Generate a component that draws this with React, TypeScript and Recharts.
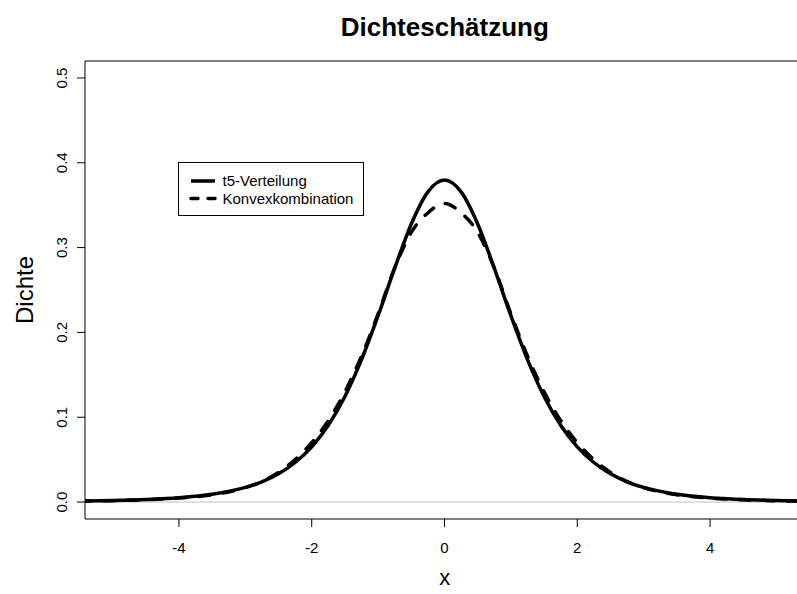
import {
  LineChart,
  Line,
  XAxis,
  YAxis,
  ReferenceLine,
  ReferenceArea,
} from 'recharts';

const xValues = [
  -5.5, -5, -4.5, -4, -3.5, -3, -2.75, -2.5, -2.25, -2, -1.75, -1.5, -1.25, -1, -0.75, -0.5, -0.25,
  0, 0.25, 0.5, 0.75, 1, 1.25, 1.5, 1.75, 2, 2.25, 2.5, 2.75, 3, 3.5, 4, 4.5, 5, 5.5,
];

const t5Values = [
  0.0011, 0.0018, 0.003, 0.0051, 0.0092, 0.0173, 0.0239, 0.0333, 0.0466, 0.0651, 0.0905, 0.1245, 0.1679, 0.2197, 0.2757, 0.3279, 0.3657,
  0.3796, 0.3657, 0.3279, 0.2757, 0.2197, 0.1679, 0.1245, 0.0905, 0.0651, 0.0466, 0.0333, 0.0239, 0.0173, 0.0092, 0.0051, 0.003, 0.0018, 0.0011,
];

const konvexValues = [
  0.001, 0.0016, 0.0027, 0.0047, 0.0085, 0.017, 0.024, 0.035, 0.05, 0.07, 0.096, 0.13, 0.172, 0.222, 0.276, 0.318, 0.341,
  0.352, 0.341, 0.318, 0.276, 0.222, 0.172, 0.13, 0.096, 0.07, 0.05, 0.035, 0.024, 0.017, 0.0085, 0.0047, 0.0027, 0.0016, 0.001,
];

const xTicks = [-4, -2, 0, 2, 4];
const yTicks = [0, 0.1, 0.2, 0.3, 0.4, 0.5];

const seriesNames = ['t5-Verteilung', 'Konvexkombination'];

const data = xValues.map((x, i) => ({ x, t5: t5Values[i], konvex: konvexValues[i] }));

const FONT = '"Liberation Sans", Arial, sans-serif';
const X_MIN = -5.415;
const X_MAX = 5.415;
const Y_MIN = -0.02;
const Y_MAX = 0.52;

const YTick = (props: any) => {
  const { y, payload } = props;
  return (
    <text
      x={67}
      y={y}
      transform={`rotate(-90, 67, ${y})`}
      textAnchor="middle"
      fontFamily={FONT}
      fontSize={15}
      fill="#000"
    >
      {payload.value.toFixed(1)}
    </text>
  );
};

const XTick = (props: any) => {
  const { x, payload } = props;
  return (
    <text x={x} y={553} textAnchor="middle" fontFamily={FONT} fontSize={15} fill="#000">
      {payload.value}
    </text>
  );
};

export default function App() {
  return (
    <div style={{ position: 'absolute', left: 0, top: 0, width: 797, height: 594, overflow: 'hidden', background: '#fff' }}>
      <LineChart width={806} height={594} data={data} margin={{ top: 61, right: 2, bottom: 0, left: 0 }}>
        <XAxis
          dataKey="x"
          type="number"
          domain={[X_MIN, X_MAX]}
          ticks={xTicks}
          allowDataOverflow
          axisLine={false}
          tickLine={{ stroke: '#000' }}
          tickSize={8}
          height={75}
          tick={<XTick />}
        />
        <YAxis
          type="number"
          domain={[Y_MIN, Y_MAX]}
          ticks={yTicks}
          allowDataOverflow
          axisLine={false}
          tickLine={{ stroke: '#000' }}
          tickSize={8}
          width={85}
          tick={<YTick />}
        />
        <ReferenceLine y={0} stroke="#bebebe" strokeWidth={1} />
        <ReferenceArea x1={X_MIN} x2={X_MAX} y1={Y_MIN} y2={Y_MAX} fill="none" stroke="#000" strokeWidth={1} fillOpacity={0} />
        <Line
          type="monotone"
          dataKey="t5"
          name={seriesNames[0]}
          stroke="#000"
          strokeWidth={3.5}
          dot={false}
          isAnimationActive={false}
        />
        <Line
          type="monotone"
          dataKey="konvex"
          name={seriesNames[1]}
          stroke="#000"
          strokeWidth={3.5}
          strokeDasharray="11 13"
          strokeLinecap="round"
          dot={false}
          isAnimationActive={false}
        />
      </LineChart>
      <svg width={797} height={594} style={{ position: 'absolute', left: 0, top: 0, pointerEvents: 'none' }}>
        <text x={444.8} y={36} textAnchor="middle" fontFamily={FONT} fontSize={26} fontWeight="bold" fill="#000">
          Dichteschätzung
        </text>
        <text x={33} y={290} transform="rotate(-90, 33, 290)" textAnchor="middle" fontFamily={FONT} fontSize={24} fill="#000">
          Dichte
        </text>
        <text x={444.8} y={585} textAnchor="middle" fontFamily={FONT} fontSize={22} fill="#000">
          x
        </text>
        <g transform="translate(178, 162)">
          <rect x={0.5} y={0.5} width={185} height={53} fill="#fff" stroke="#000" />
          <line x1={13} x2={37} y1={19} y2={19} stroke="#000" strokeWidth={3.5} />
          <line x1={13} x2={37} y1={36.5} y2={36.5} stroke="#000" strokeWidth={3.5} strokeDasharray="7 10" strokeLinecap="round" />
          <text x={44.5} y={24} fontFamily={FONT} fontSize={15} fill="#000">{seriesNames[0]}</text>
          <text x={44.5} y={41.5} fontFamily={FONT} fontSize={15} fill="#000">{seriesNames[1]}</text>
        </g>
      </svg>
    </div>
  );
}
